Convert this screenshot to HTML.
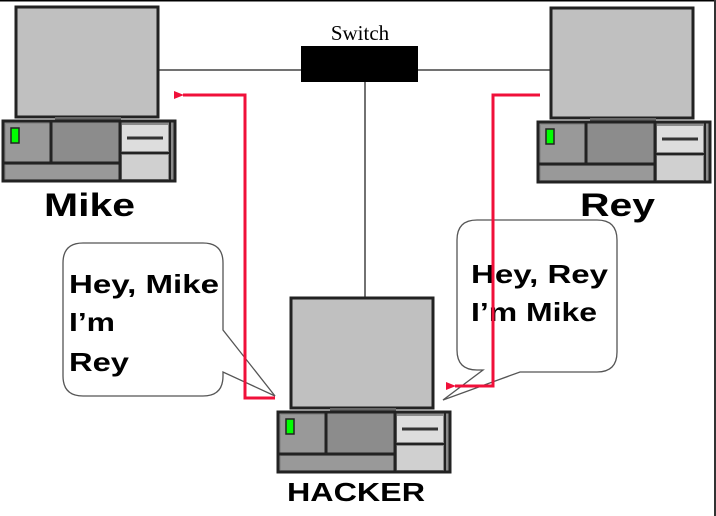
<!DOCTYPE html>
<html><head><meta charset="utf-8"><style>
html,body{margin:0;padding:0;background:#fff;}
svg{display:block;}
text{font-family:"Liberation Sans",sans-serif;font-weight:bold;fill:#000;}
</style></head><body>
<svg width="716" height="516" viewBox="0 0 716 516" xmlns="http://www.w3.org/2000/svg">
<defs>
<g id="pc">
  <rect x="13" y="0" width="142" height="110" fill="#c0c0c0" stroke="#222" stroke-width="3"/>
  <rect x="52" y="110" width="66" height="6" fill="#666"/>
  <rect x="0" y="114" width="172" height="60" fill="#8a8a8a" stroke="#222" stroke-width="3"/>
  <rect x="3" y="117" width="44" height="38" fill="#999"/>
  <line x1="48" y1="115" x2="48" y2="156" stroke="#222" stroke-width="3"/>
  <rect x="50" y="117" width="66" height="38" fill="#8c8c8c"/>
  <line x1="1" y1="156" x2="117" y2="156" stroke="#222" stroke-width="3"/>
  <rect x="3" y="158" width="113" height="14" fill="#999"/>
  <line x1="117" y1="115" x2="117" y2="173" stroke="#222" stroke-width="3"/>
  <rect x="119" y="118" width="46" height="26" fill="#ddd"/>
  <line x1="124" y1="131" x2="160" y2="131" stroke="#333" stroke-width="3"/>
  <line x1="118" y1="146" x2="167" y2="146" stroke="#222" stroke-width="2"/>
  <rect x="119" y="148" width="46" height="24" fill="#d0d0d0"/>
  <line x1="167" y1="115" x2="167" y2="173" stroke="#222" stroke-width="2"/>
  <rect x="8" y="121" width="8" height="15" fill="#0f0" stroke="#222" stroke-width="1.5"/>
</g>
<marker id="ah" markerWidth="10" markerHeight="8" refX="1" refY="4" orient="auto" markerUnits="userSpaceOnUse">
  <path d="M10,0 L0,4 L10,8 Z" fill="#f0103a"/>
</marker>
</defs>
<line x1="0" y1="0.5" x2="716" y2="0.5" stroke="#000" stroke-width="2"/>
<line x1="715" y1="0" x2="715" y2="516" stroke="#333" stroke-width="2"/>
<line x1="158" y1="70" x2="302" y2="70" stroke="#444" stroke-width="1.5"/>
<line x1="418" y1="70" x2="552" y2="70" stroke="#444" stroke-width="1.5"/>
<line x1="365" y1="82" x2="365" y2="298" stroke="#444" stroke-width="1.5"/>
<rect x="301" y="46" width="117" height="36" fill="#000"/>
<text x="360" y="40" text-anchor="middle" style="font-family:'Liberation Serif',serif;font-weight:normal;font-size:21px">Switch</text>
<use href="#pc" x="3" y="7"/>
<use href="#pc" x="538" y="8"/>
<use href="#pc" x="278" y="298"/>
<text x="44" y="216" style="font-size:32px" textLength="91" lengthAdjust="spacingAndGlyphs">Mike</text>
<text x="580" y="216" style="font-size:32px" textLength="75" lengthAdjust="spacingAndGlyphs">Rey</text>
<text x="287" y="501" style="font-size:26px" textLength="138" lengthAdjust="spacingAndGlyphs">HACKER</text>
<path d="M83,243 H203 Q223,243 223,263 V330 L275,396 L223,372 V376 Q223,396 203,396 H83 Q63,396 63,376 V263 Q63,243 83,243 Z" fill="#fff" stroke="#555" stroke-width="1.3"/>
<path d="M477,220 H597 Q617,220 617,240 V352 Q617,372 597,372 H520 L443,400 L483,370 H477 Q457,370 457,350 V240 Q457,220 477,220 Z" fill="#fff" stroke="#555" stroke-width="1.3"/>
<text x="69" y="293" style="font-size:26px" textLength="150" lengthAdjust="spacingAndGlyphs">Hey, Mike</text>
<text x="69" y="331" style="font-size:26px" textLength="46" lengthAdjust="spacingAndGlyphs">I’m</text>
<text x="69" y="371" style="font-size:26px" textLength="60" lengthAdjust="spacingAndGlyphs">Rey</text>
<text x="471" y="283" style="font-size:26px" textLength="137" lengthAdjust="spacingAndGlyphs">Hey, Rey</text>
<text x="471" y="321" style="font-size:26px" textLength="126" lengthAdjust="spacingAndGlyphs">I’m Mike</text>
<polyline points="275,398 245,398 245,95 183,95" fill="none" stroke="#f0103a" stroke-width="3" marker-end="url(#ah)"/>
<polyline points="540,95 493,95 493,386 455,386" fill="none" stroke="#f0103a" stroke-width="3" marker-end="url(#ah)"/>
</svg>
</body></html>
